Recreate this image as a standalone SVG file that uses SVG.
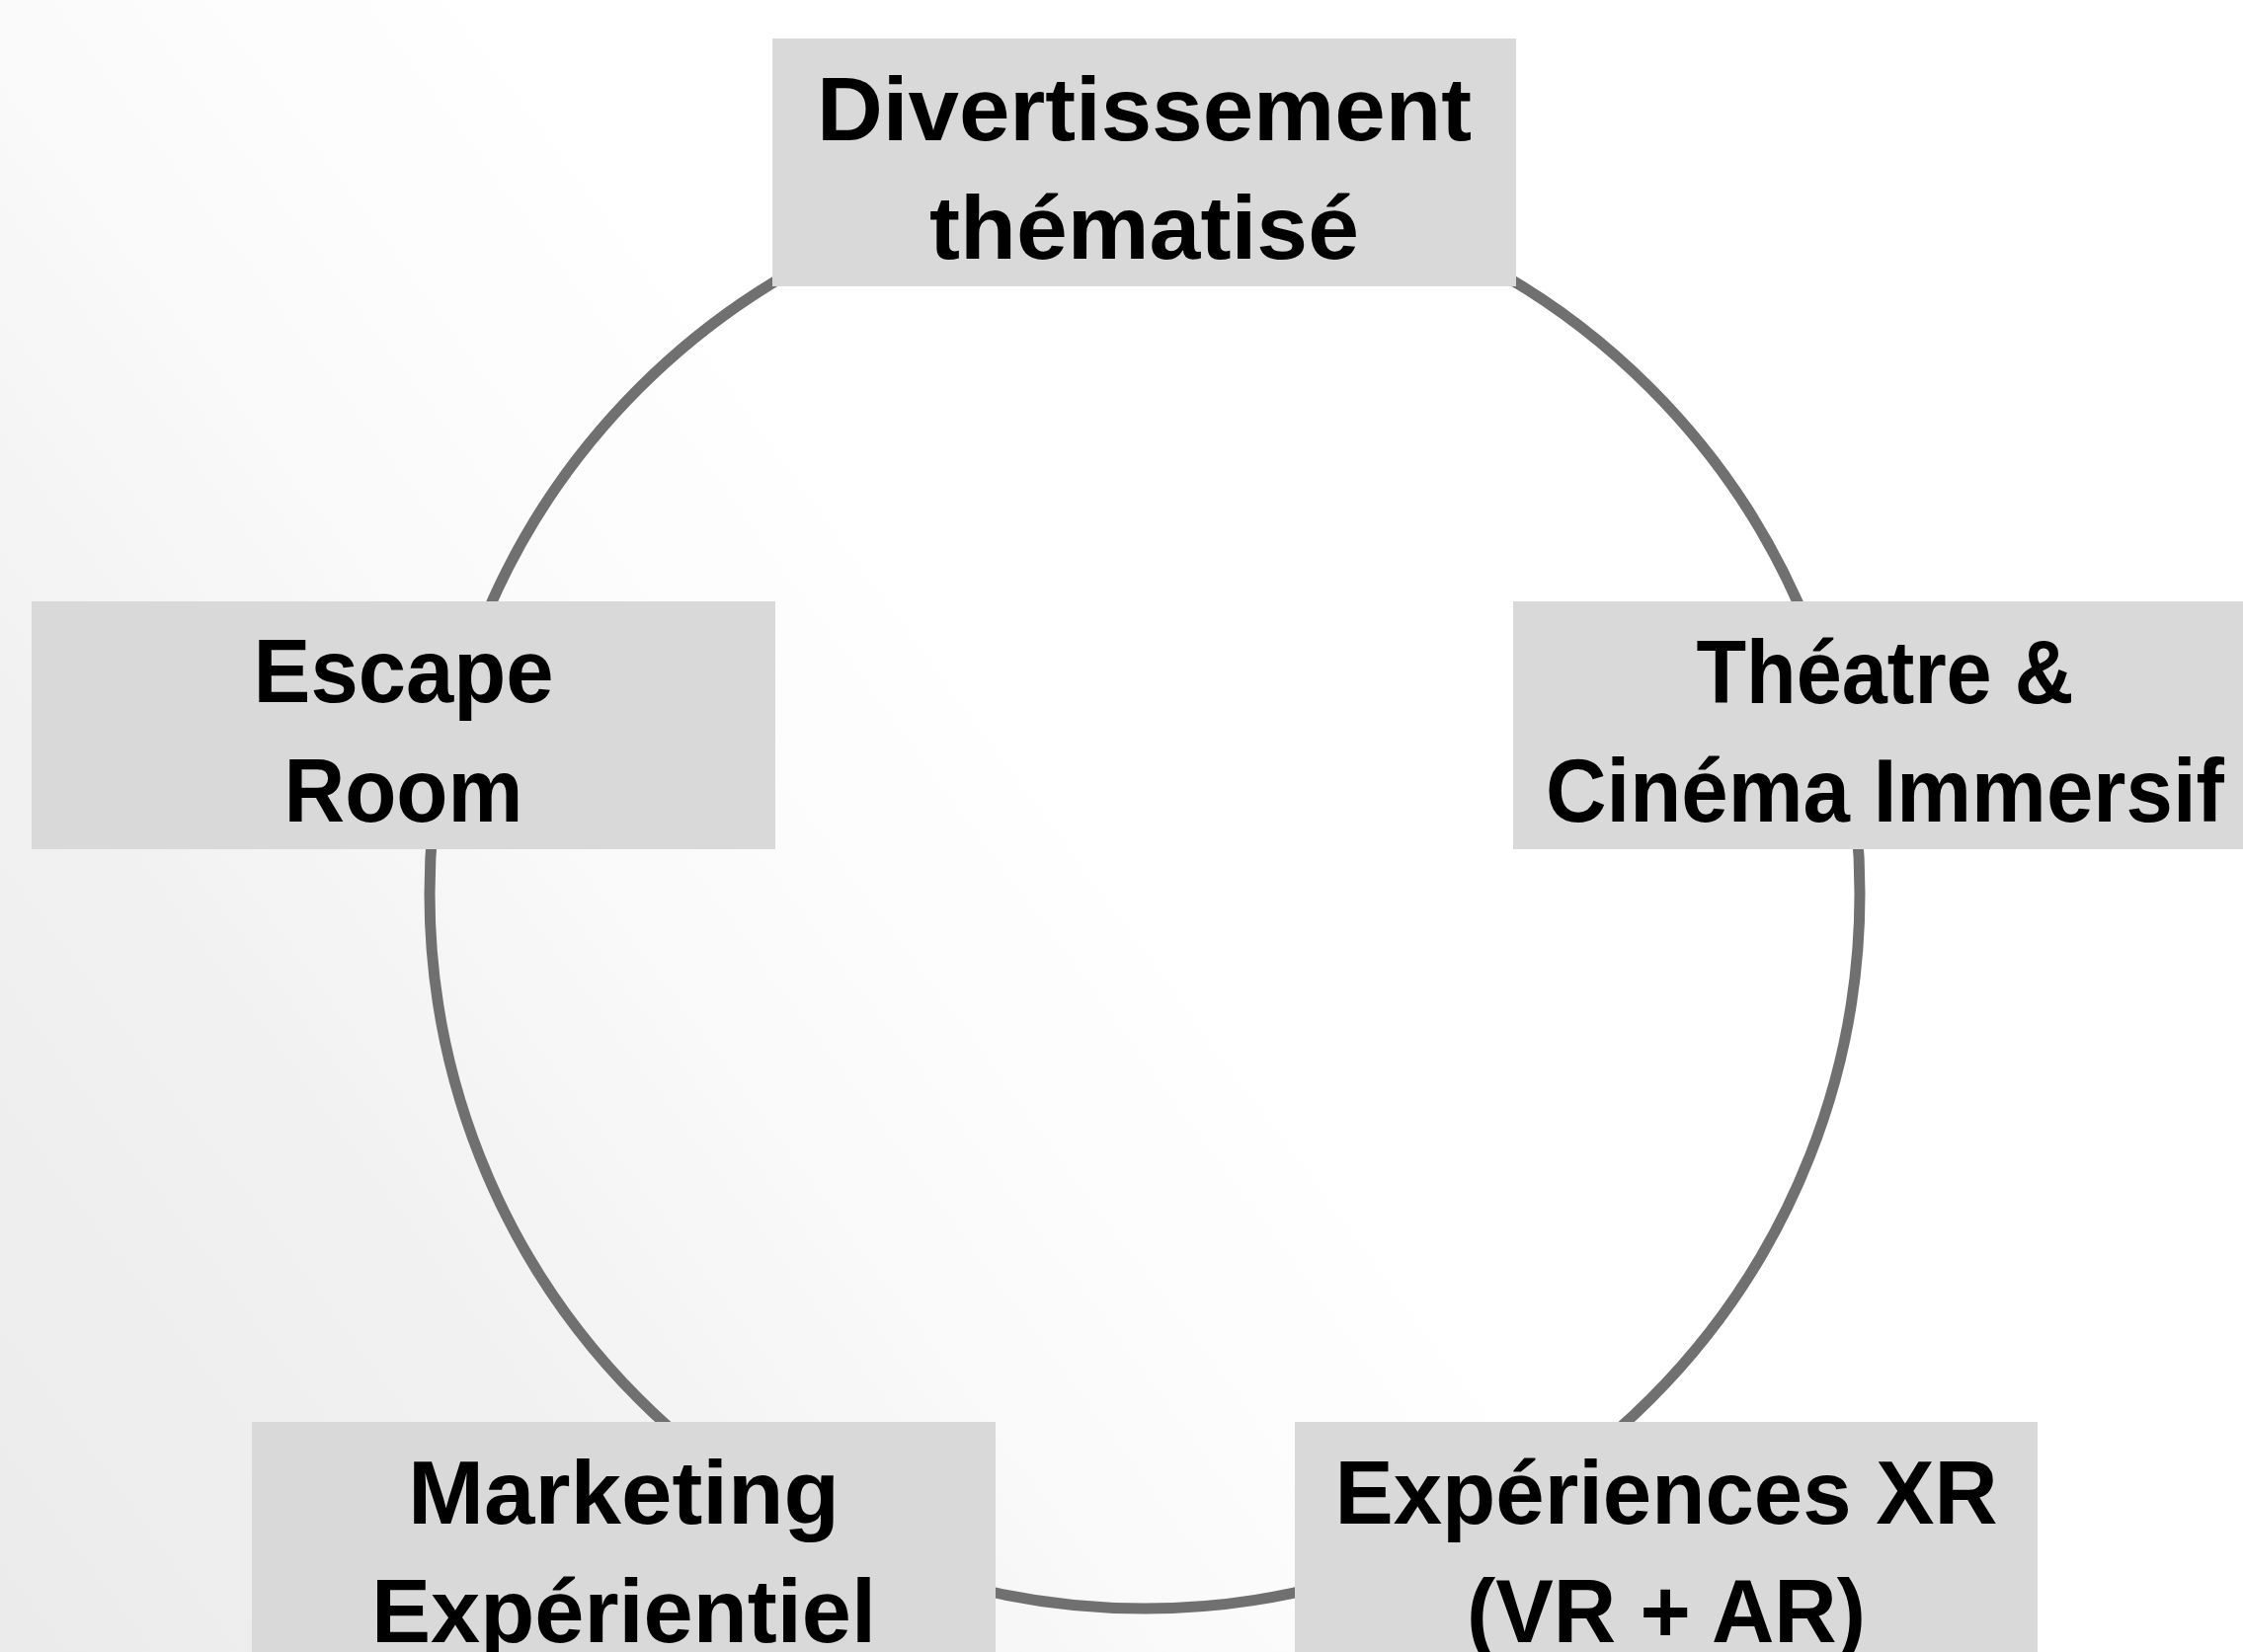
<svg xmlns="http://www.w3.org/2000/svg" width="2271" height="1673" viewBox="0 0 2271 1673">
  <defs>
    <linearGradient id="bg" gradientUnits="userSpaceOnUse" x1="0" y1="1673" x2="2271" y2="0">
      <stop offset="0" stop-color="#ebebeb"/>
      <stop offset="0.2" stop-color="#f1f1f1"/>
      <stop offset="0.35" stop-color="#fafafa"/>
      <stop offset="0.5" stop-color="#ffffff"/>
      <stop offset="1" stop-color="#ffffff"/>
    </linearGradient>
    <style>
      .box { fill: #d9d9d9; }
      .lbl { font-family: "Liberation Sans", Arial, sans-serif; font-weight: bold; font-size: 91px; fill: #000000; text-anchor: middle; }
      .ring { fill: none; stroke: #707070; stroke-width: 11; }
    </style>
  </defs>
  <rect x="0" y="0" width="2271" height="1673" fill="url(#bg)"/>
  <g id="connectors">
    <circle class="ring" cx="1159" cy="905" r="724"/>
  </g>
  <g id="node-divertissement">
    <rect class="box" x="782" y="39" width="753" height="251"/>
    <text class="lbl" x="1158.5" y="142" textLength="663" lengthAdjust="spacingAndGlyphs">Divertissement</text>
    <text class="lbl" x="1158.5" y="262" textLength="435" lengthAdjust="spacingAndGlyphs">thématisé</text>
  </g>
  <g id="node-escape">
    <rect class="box" x="32" y="609" width="753" height="251"/>
    <text class="lbl" x="408.5" y="711" textLength="304" lengthAdjust="spacingAndGlyphs">Escape</text>
    <text class="lbl" x="408.5" y="832" textLength="242" lengthAdjust="spacingAndGlyphs">Room</text>
  </g>
  <g id="node-theatre">
    <rect class="box" x="1532" y="609" width="753" height="251"/>
    <text class="lbl" x="1908.5" y="712" textLength="382" lengthAdjust="spacingAndGlyphs">Théatre &amp;</text>
    <text class="lbl" x="1908.5" y="832" textLength="687" lengthAdjust="spacingAndGlyphs">Cinéma Immersif</text>
  </g>
  <g id="node-marketing">
    <rect class="box" x="255" y="1440" width="753" height="251"/>
    <text class="lbl" x="631.5" y="1543" textLength="437" lengthAdjust="spacingAndGlyphs">Marketing</text>
    <text class="lbl" x="631.5" y="1663" textLength="511" lengthAdjust="spacingAndGlyphs">Expérientiel</text>
  </g>
  <g id="node-xr">
    <rect class="box" x="1311" y="1440" width="752" height="251"/>
    <text class="lbl" x="1687" y="1543" textLength="671" lengthAdjust="spacingAndGlyphs">Expériences XR</text>
    <text class="lbl" x="1687" y="1663" textLength="404" lengthAdjust="spacingAndGlyphs">(VR + AR)</text>
  </g>
</svg>
